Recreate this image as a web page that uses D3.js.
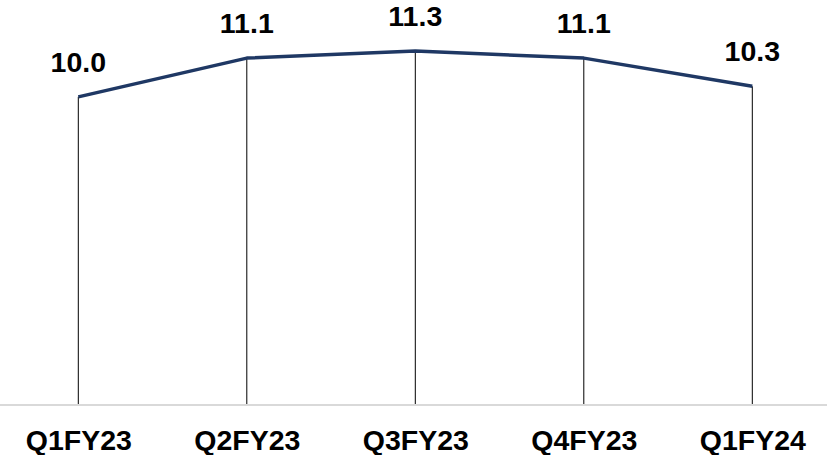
<!DOCTYPE html>
<html>
<head>
<meta charset="utf-8">
<script src="https://cdn.jsdelivr.net/npm/d3@7"></script>
<style>
html,body{margin:0;padding:0;background:#fff;}
svg{display:block;}
</style>
</head>
<body>
<svg id="chart" width="827" height="455"></svg>
<script>
const categories = ["Q1FY23","Q2FY23","Q3FY23","Q4FY23","Q1FY24"];
const values = [10.0, 11.1, 11.3, 11.1, 10.3];
const labels = ["10.0","11.1","11.3","11.1","10.3"];

const svg = d3.select("#chart");
const W = 827, baseY = 405;
const x = d3.scalePoint().domain(categories).range([78.3, 752.3]);
const y = d3.scaleLinear().domain([1.25, 12.75]).range([baseY, 0]);
const font = "'Liberation Sans', Arial, sans-serif";

// baseline
svg.append("line").attr("x1",0).attr("x2",W).attr("y1",baseY).attr("y2",baseY)
  .attr("stroke","#d9d9d9").attr("stroke-width",2);

// drop lines
svg.selectAll("line.drop").data(values).enter().append("line").attr("class","drop")
  .attr("x1",(d,i)=>x(categories[i])).attr("x2",(d,i)=>x(categories[i]))
  .attr("y1",d=>y(d)).attr("y2",baseY-1)
  .attr("stroke","#000").attr("stroke-width",1);

// line
const line = d3.line().x((d,i)=>x(categories[i])).y(d=>y(d));
svg.append("path").datum(values).attr("d",line)
  .attr("fill","none").attr("stroke","#1f3864").attr("stroke-width",3.5)
  .attr("stroke-linejoin","round");

// value labels
svg.selectAll("text.val").data(values).enter().append("text").attr("class","val")
  .attr("x",(d,i)=>x(categories[i])).attr("y",d=>y(d)-25)
  .attr("text-anchor","middle").attr("font-family",font).attr("font-weight","bold")
  .attr("font-size",28.5).attr("fill","#000").text((d,i)=>labels[i]);

// category labels
const xAxis = d3.axisBottom(x).tickSize(0).tickPadding(0);
const g = svg.append("g").attr("transform",`translate(0,${baseY})`).call(xAxis);
g.select(".domain").remove();
g.selectAll("text").attr("font-family",font).attr("font-weight","bold")
  .attr("font-size",28.5).attr("fill","#000").attr("dy",null).attr("y",45);
</script>
</body>
</html>
